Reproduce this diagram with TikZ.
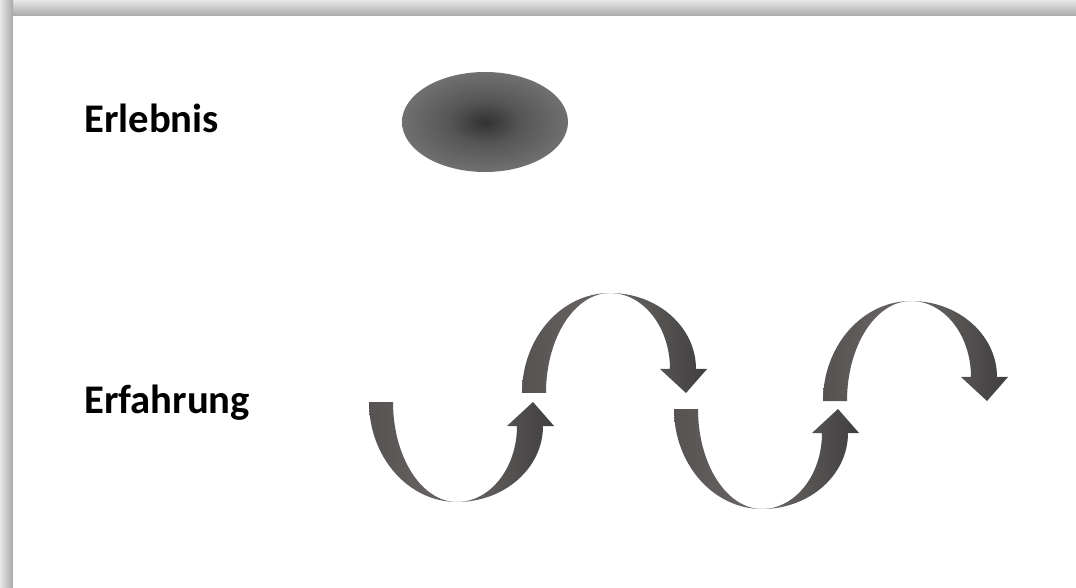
\documentclass[tikz,border=0pt]{standalone}
\usepackage{fontspec}
\setmainfont{Carlito}
\usetikzlibrary{shapes.geometric}
\definecolor{ERFlight}{RGB}{108,104,104}
\definecolor{ERFmid}{RGB}{86,82,82}
\definecolor{ERFdark}{RGB}{64,62,62}
\definecolor{ERLcore}{RGB}{50,50,50}
\definecolor{ERLmid}{RGB}{86,86,86}
\definecolor{ERLrim}{RGB}{112,112,112}
\definecolor{SHDlight}{RGB}{232,232,232}
\definecolor{SHDdark}{RGB}{168,168,168}
\pgfdeclareradialshading{erl glow}{\pgfpoint{0bp}{0bp}}{%
  color(0bp)=(ERLcore); color(11bp)=(ERLmid); color(25bp)=(ERLrim); color(50bp)=(ERLrim)}
\tikzset{
  erl label/.style={
    font=\bfseries\fontsize{30.5}{34}\selectfont,
    anchor=base west,
    inner sep=0pt
  },
  erl blob/.style={
    ellipse,
    minimum width=124.5pt,
    minimum height=75pt,
    inner sep=0pt,
    shading=erl glow
  },
  % one half-wave: fading crescent down to the turning point, then the shaft up to the head
  erf wave/.pic={
    \shade[left color=ERFmid,right color=ERFlight]
      (-88,-100) .. controls (-88,-44.8) and (-48.6,0) .. (0,0)
      .. controls (-35.3,0) and (-64,-44.8) .. (-64,-100) -- cycle;
    \shade[left color=ERFlight,right color=ERFdark]
      (0,0) .. controls (47.5,0) and (86,-34) .. (86,-76)
      -- (97,-76) -- (76,-100) -- (50,-76) -- (60,-76)
      .. controls (60,-34) and (33.1,0) .. (0,0) -- cycle;
  }
}

\begin{document}
\begin{tikzpicture}[x=0.75pt,y=-0.75pt]
  \useasboundingbox (0,0) rectangle (1076,588);
  \fill[white] (0,0) rectangle (1076,588);

  % slide shadow
  \shade[top color=SHDlight,bottom color=SHDdark] (0,0) rectangle (1076,16);
  \shade[left color=SHDlight,right color=SHDdark] (0,0) rectangle (13,588);
  \fill[white] (13,16) rectangle (1076,588);

  \node[erl label] (erlebnis) at (84,133) {Erlebnis};
  \node[erl label] (erfahrung) at (84,413) {Erfahrung};

  \node[erl blob] (erlebnis-blob) at (485,122) {};

  \pic (wave-a) at (457,502) {erf wave};
  \pic[yscale=-1] (wave-b) at (610,293) {erf wave};
  \pic (wave-c) at (762,509) {erf wave};
  \pic[yscale=-1] (wave-d) at (911,301) {erf wave};
\end{tikzpicture}
\end{document}
